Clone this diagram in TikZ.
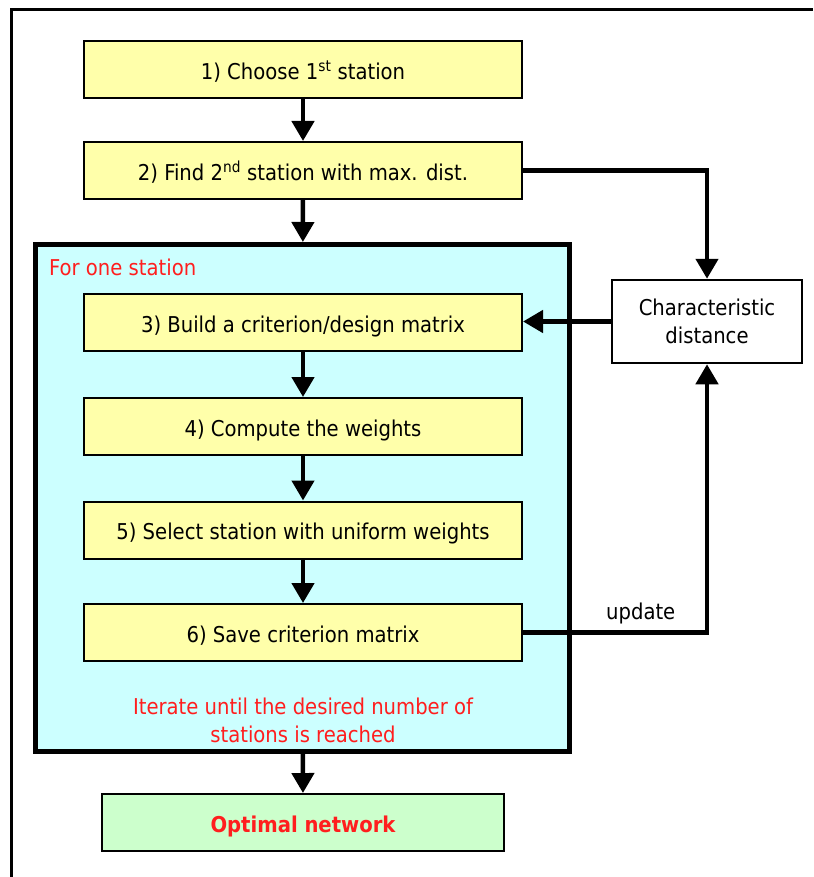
\documentclass[tikz,border=0pt]{standalone}
\usepackage{fontspec}
\setmainfont{DejaVu Sans Condensed}
\usetikzlibrary{arrows.meta}
\definecolor{stepyellow}{RGB}{255,255,170}
\definecolor{loopcyan}{RGB}{204,255,255}
\definecolor{resultgreen}{RGB}{204,255,204}
\definecolor{notered}{RGB}{255,30,30}
\begin{document}
\begin{tikzpicture}[x=1pt, y=-1pt, font=\fontsize{21.8}{28}\selectfont, line join=miter,
	stepbox/.style={draw, line width=2pt, fill=stepyellow, minimum width=438pt, minimum height=57pt, inner sep=0pt, text height=21pt, text depth=1.5pt},
	loopbox/.style={draw, line width=5pt, fill=loopcyan, minimum width=534pt, minimum height=507pt, inner sep=0pt},
	distbox/.style={draw, line width=2.5pt, fill=white, minimum width=190pt, minimum height=83pt, align=center, inner sep=0pt},
	resultbox/.style={draw, line width=2pt, fill=resultgreen, minimum width=402pt, minimum height=57pt, inner sep=0pt, text height=21pt, text depth=1.5pt, text=notered, font=\fontsize{21.8}{28}\selectfont\bfseries},
	note/.style={text=notered, align=center, inner sep=0pt},
	flow/.style={line width=4.5pt, -{Triangle[width=22pt,length=20pt]}}]
	\useasboundingbox (0,0) rectangle (813,877);
	\draw[line width=3pt] (11,877) -- (11,9.5) -- (813,9.5);
	\node[loopbox] (loop) at (302.5,498) {};
	\node[note, anchor=base west] (onestation) at (49,275) {For one station};
	\node[stepbox] (choose) at (303,69.5) {1) Choose 1\textsuperscript{st} station};
	\node[stepbox] (find) at (303,170.5) {2) Find 2\textsuperscript{nd} station with max. dist.};
	\node[stepbox] (build) at (303,322.5) {3) Build a criterion/design matrix};
	\node[stepbox] (weights) at (303,426.5) {4) Compute the weights};
	\node[stepbox] (select) at (303,530) {5) Select station with uniform weights};
	\node[stepbox] (save) at (303,632.5) {6) Save criterion matrix};
	\node[note] (iterate) at (303,720) {Iterate until the desired number of\\stations is reached};
	\node[distbox] (chardist) at (707,321.5) {Characteristic\\distance};
	\node[resultbox] (optimal) at (303,822.5) {Optimal network};
	\draw[flow] (choose) -- (find);
	\draw[flow] (find) -- (loop);
	\draw[flow] (build) -- (weights);
	\draw[flow] (weights) -- (select);
	\draw[flow] (select) -- (save);
	\draw[flow] (loop) -- (optimal);
	\draw[flow] (find.east) -| (chardist.north);
	\draw[flow] (chardist.west) -- (build.east |- chardist.west);
	\draw[flow] (save.east) -| (chardist.south) node[pos=0.32, above=3pt] {update};
\end{tikzpicture}
\end{document}
